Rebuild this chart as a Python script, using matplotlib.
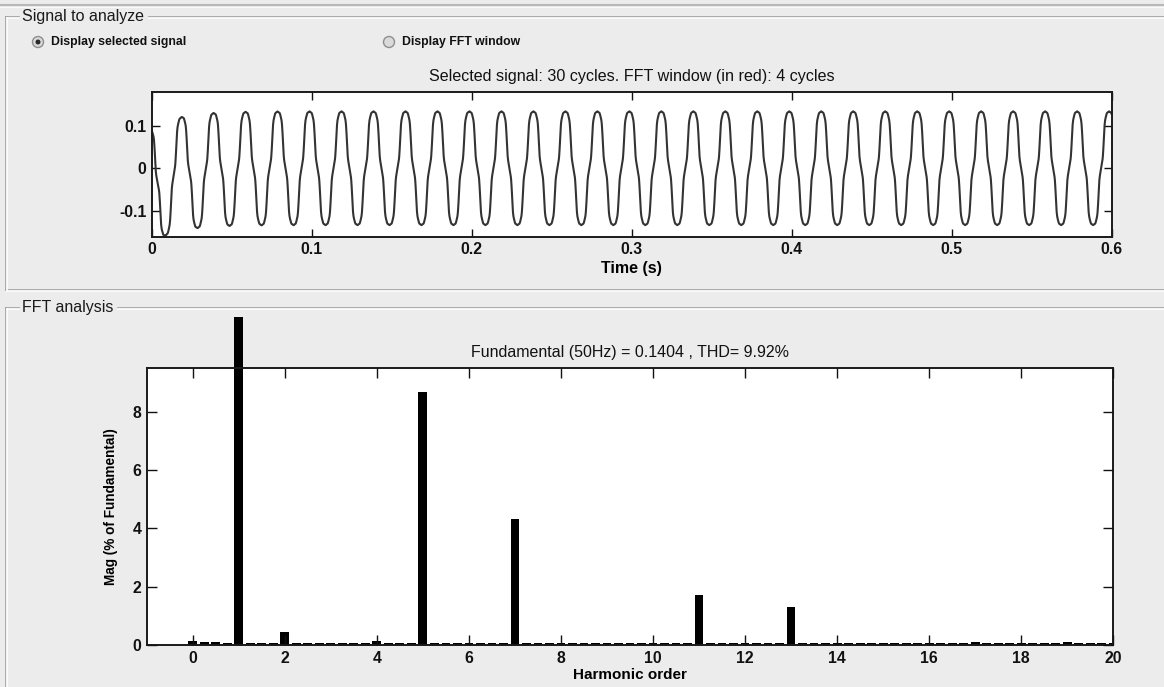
import numpy as np
import matplotlib
matplotlib.use("Agg")
import matplotlib.pyplot as plt
from matplotlib.lines import Line2D
from matplotlib.patches import Ellipse
from matplotlib.transforms import Bbox, TransformedBbox

# ---------------- data ----------------
fundamental_hz = 50.0
fundamental_mag = 0.1404
thd_pct = 9.92
signal_duration = 0.6           # s (30 cycles)
peak_time = 0.0185              # time of a fundamental peak (s)
harm_orders = [5, 7, 11, 13]                 # dominant harmonics
harm_pct = [8.67, 4.32, 1.71, 1.30]          # % of fundamental
harm_sign = [-1, 1, -1, 1]                   # relative polarity
dc_offset0 = -0.042             # initial decaying DC offset
dc_tau = 0.016                  # s

# spectrum (bins every 0.25 harmonic order, 0 .. 20)
spec_orders = np.arange(0, 20.001, 0.25)
spec_mag = [
    0.15, 0.12, 0.10, 0.06,            # 0 .. 0.75
    100.0, 0.06, 0.06, 0.06,           # 1 .. 1.75
    0.45, 0.06, 0.06, 0.06,            # 2
    0.06, 0.06, 0.06, 0.06,            # 3
    0.15, 0.06, 0.06, 0.06,            # 4
    8.67, 0.06, 0.06, 0.06,            # 5
    0.08, 0.06, 0.06, 0.06,            # 6
    4.32, 0.06, 0.06, 0.06,            # 7
    0.06, 0.06, 0.06, 0.06,            # 8
    0.06, 0.06, 0.06, 0.06,            # 9
    0.08, 0.06, 0.06, 0.06,            # 10
    1.71, 0.06, 0.06, 0.06,            # 11
    0.08, 0.06, 0.06, 0.06,            # 12
    1.30, 0.06, 0.06, 0.06,            # 13
    0.06, 0.06, 0.06, 0.06,            # 14
    0.06, 0.06, 0.06, 0.06,            # 15
    0.06, 0.06, 0.06, 0.06,            # 16
    0.12, 0.06, 0.06, 0.06,            # 17
    0.06, 0.06, 0.06, 0.06,            # 18
    0.10, 0.06, 0.06, 0.06,            # 19
    0.06,                              # 20
]

time_ticks = [0, 0.1, 0.2, 0.3, 0.4, 0.5, 0.6]
time_ticklabels = ["0", "0.1", "0.2", "0.3", "0.4", "0.5", "0.6"]
sig_yticks = [-0.1, 0, 0.1]
sig_yticklabels = ["-0.1", "0", "0.1"]
harm_xticks = list(range(0, 21, 2))
mag_yticks = [0, 2, 4, 6, 8]

# reconstruct the time-domain signal from the measured harmonic content
t = np.linspace(0, signal_duration, 6001)
theta = 2 * np.pi * fundamental_hz * (t - peak_time)
sig = fundamental_mag * np.cos(theta)
for h, p, s in zip(harm_orders, harm_pct, harm_sign):
    sig += s * fundamental_mag * p / 100.0 * np.cos(h * theta)
sig += dc_offset0 * np.exp(-t / dc_tau)

# ---------------- figure ----------------
W, H = 1164, 687
BG = "#ececec"
plt.rcParams["font.family"] = ["Liberation Sans", "DejaVu Sans"]
fig = plt.figure(figsize=(W / 100, H / 100), dpi=100, facecolor=BG)


def fx(px):
    return px / W


def fy(py):
    return 1 - py / H


def hline(x0, x1, y, color="#9a9a9a", lw=1.2):
    fig.add_artist(Line2D([fx(x0), fx(x1)], [fy(y), fy(y)], color=color, lw=lw,
                          transform=fig.transFigure))


def vline(x, y0, y1, color="#9a9a9a", lw=1.2):
    fig.add_artist(Line2D([fx(x), fx(x)], [fy(y0), fy(y1)], color=color, lw=lw,
                          transform=fig.transFigure))


# window top line
hline(0, W, 5, color="#b8b8b8", lw=1.5)
hline(0, W, 6.5, color="#fafafa", lw=0.8)

# panel 1 frame (etched)
for (c, d) in (("#a0a0a0", 0), ("#ffffff", 1.2)):
    hline(5.5 + d, 19, 16.5 + d, color=c)
    hline(149, W, 16.5 + d, color=c)
    vline(5.5 + d, 16.5 + d, 290 + d, color=c)
    hline(5.5 + d, W, 290 + d, color=c)
# panel 2 frame
for (c, d) in (("#a0a0a0", 0), ("#ffffff", 1.2)):
    hline(5.5 + d, 19, 307.5 + d, color=c)
    hline(118, W, 307.5 + d, color=c)
    vline(5.5 + d, 307.5 + d, H + 2, color=c)

fig.text(fx(22), fy(16.5), "Signal to analyze", fontsize=11.5, va="center", ha="left",
         color="#1a1a1a")
fig.text(fx(22), fy(307.5), "FFT analysis", fontsize=11.5, va="center", ha="left",
         color="#1a1a1a")


def radio(xc, yc, selected):
    r = 5.5
    e = Ellipse((fx(xc), fy(yc)), 2 * r / W, 2 * r / H, transform=fig.transFigure,
                facecolor="#dadada", edgecolor="#8e8e8e", lw=1.0)
    fig.add_artist(e)
    if selected:
        d = Ellipse((fx(xc), fy(yc)), 5.0 / W, 5.0 / H, transform=fig.transFigure,
                    facecolor="#2a2a2a", edgecolor="none")
        fig.add_artist(d)


radio(38, 42, True)
radio(389, 42, False)
fig.text(fx(51), fy(42.5), "Display selected signal", fontsize=8.8, fontweight="bold",
         va="center", ha="left", color="#111111")
fig.text(fx(402), fy(42.5), "Display FFT window", fontsize=8.8, fontweight="bold",
         va="center", ha="left", color="#111111")

TICK_FS = 11.3

# ---------------- upper axes: signal ----------------
ax1 = fig.add_axes([fx(152), fy(236.7), fx(1111.5) - fx(152), fy(91.7) - fy(236.7)])
ax1.set_facecolor("white")
ax1.plot(t, sig, color="#333333", lw=1.5)
ax1.set_xlim(0, signal_duration)
ax1.set_ylim(-0.161, 0.180)
ax1.set_xticks(time_ticks)
ax1.set_xticklabels(time_ticklabels)
ax1.set_yticks(sig_yticks)
ax1.set_yticklabels(sig_yticklabels)
ax1.tick_params(direction="in", length=6, width=1.0, top=True, right=True,
                labelsize=TICK_FS, pad=4, colors="#111111")
for lab in ax1.get_xticklabels() + ax1.get_yticklabels():
    lab.set_fontweight("bold")
for sp in ax1.spines.values():
    sp.set_linewidth(1.4)
    sp.set_color("#1a1a1a")
ax1.set_xlabel("Time (s)", fontsize=11.5, fontweight="bold", labelpad=3)
ax1.set_title("Selected signal: 30 cycles. FFT window (in red): 4 cycles",
              fontsize=11.6, pad=8, color="#111111")

# ---------------- lower axes: FFT ----------------
ax2 = fig.add_axes([fx(146.7), fy(645), fx(1113.3) - fx(146.7), fy(368.3) - fy(645)])
ax2.set_facecolor("white")
bars = ax2.bar(spec_orders, spec_mag, width=0.19, color="black", edgecolor="none")
clip = TransformedBbox(Bbox([[fx(146.7), fy(645)], [fx(1113.3), fy(316.5)]]),
                       fig.transFigure)
for b in bars:
    b.set_clip_box(clip)
ax2.set_xlim(-1, 20)
ax2.set_ylim(0, 9.49)
ax2.set_xticks(harm_xticks)
ax2.set_yticks(mag_yticks)
ax2.tick_params(direction="in", length=7, width=1.0, top=True, right=True,
                labelsize=TICK_FS, pad=4, colors="#111111")
for lab in ax2.get_xticklabels() + ax2.get_yticklabels():
    lab.set_fontweight("bold")
for sp in ax2.spines.values():
    sp.set_linewidth(1.4)
    sp.set_color("#1a1a1a")
ax2.set_axisbelow(False)
ax2.set_xlabel("Harmonic order", fontsize=11, fontweight="bold", labelpad=2)
ax2.set_ylabel("Mag (% of Fundamental)", fontsize=9.8, fontweight="bold", labelpad=10)
ax2.set_title(f"Fundamental ({fundamental_hz:.0f}Hz) = {fundamental_mag:.4f} , THD= {thd_pct:.2f}%",
              fontsize=11.5, pad=8, color="#111111")

fig.savefig("out.png", dpi=100, facecolor=BG)
